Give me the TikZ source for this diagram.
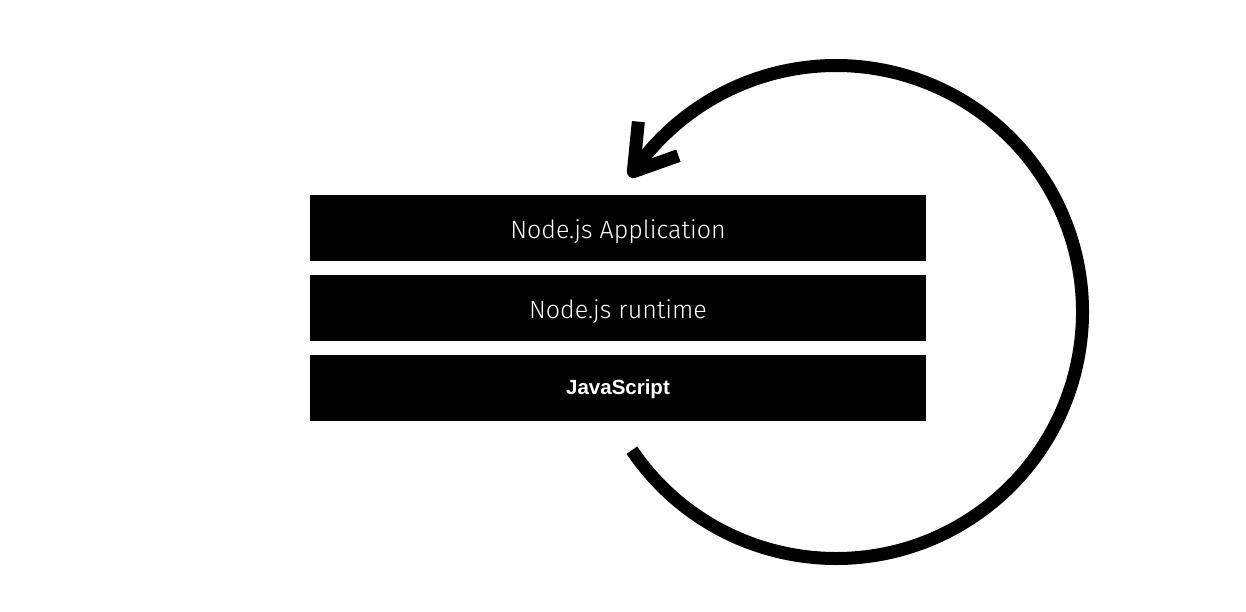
\documentclass[tikz,border=0pt]{standalone}
\usepackage{fontspec}
\newfontfamily\lightfont{Fira Sans}[UprightFont={* Light}]
\newfontfamily\jsfont{Liberation Sans}
\usetikzlibrary{calc}
\tikzset{
  layer/.style={fill=black, draw=none, minimum width=616pt, minimum height=66pt, inner sep=0pt, text=white},
  lighttext/.style={font=\lightfont\fontsize{25}{29}\selectfont, text=white, inner sep=0pt},
  jstext/.style={font=\jsfont\bfseries\fontsize{20.5}{24}\selectfont, text=white, inner sep=0pt},
  cycle/.style={line width=13pt, line cap=butt, line join=round}
}
\begin{document}
\begin{tikzpicture}[x=1pt,y=1pt]
\useasboundingbox (0,0) rectangle (1246,612);
\node[layer] (app) at (618,384) {};
\node[layer] (rt) at (618,304) {};
\node[layer] (js) at (618,224) {};
\node[lighttext] (appt) at ([yshift=-4pt]app.center) {Node.js Application};
\node[lighttext] (rtt) at ([yshift=-4pt]rt.center) {Node.js runtime};
\node[jstext] (jst) at ([yshift=-1pt]js.center) {JavaScript};
\coordinate (c) at (836,300);
\coordinate (s) at ($(c)+(214.1:246.5)$);
\coordinate (t) at ($(c)+(145.3:246.5)$);
\draw[cycle] (s) arc[start angle=214.1, end angle=505.3, radius=246.5];
\draw[cycle] ($(t)+(5,50)$) -- (t) -- ($(t)+(45,16)$);
\end{tikzpicture}
\end{document}
